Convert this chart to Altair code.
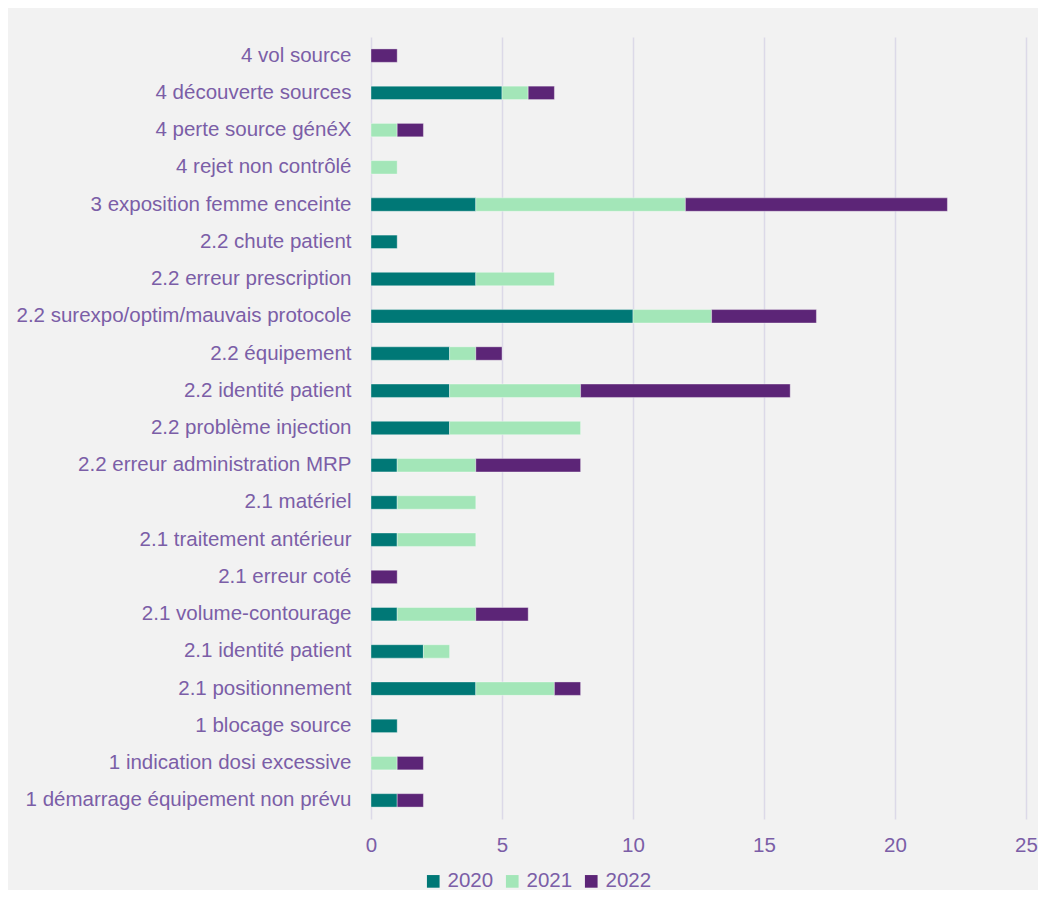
import altair as alt
import pandas as pd

categories = [
    "4 vol source",
    "4 découverte sources",
    "4 perte source généX",
    "4 rejet non contrôlé",
    "3 exposition femme enceinte",
    "2.2 chute patient",
    "2.2 erreur prescription",
    "2.2 surexpo/optim/mauvais protocole",
    "2.2 équipement",
    "2.2 identité patient",
    "2.2 problème injection ",
    "2.2 erreur administration MRP",
    "2.1 matériel",
    "2.1 traitement antérieur",
    "2.1 erreur coté",
    "2.1 volume-contourage",
    "2.1 identité patient",
    "2.1 positionnement",
    "1 blocage source",
    "1 indication dosi excessive",
    "1 démarrage équipement non prévu",
]
years = ["2020", "2021", "2022"]
v2020 = [0, 5, 0, 0, 4, 1, 4, 10, 3, 3, 3, 1, 1, 1, 0, 1, 2, 4, 1, 0, 1]
v2021 = [0, 1, 1, 1, 8, 0, 3, 3, 1, 5, 5, 3, 3, 3, 0, 3, 1, 3, 0, 1, 0]
v2022 = [1, 1, 1, 0, 10, 0, 0, 4, 1, 8, 0, 4, 0, 0, 1, 2, 0, 1, 0, 1, 1]
colors = ["#007876", "#A3E6B8", "#5C2577"]

rows = []
for series, year in zip([v2020, v2021, v2022], years):
    for cat, val in zip(categories, series):
        if val:
            rows.append({"cat": cat, "year": year, "val": val, "ord": years.index(year)})
df = pd.DataFrame(rows)

TXT = "#7B5EA7"
FONT = "Arial, Liberation Sans, sans-serif"
FS = 20.5

chart = (
    alt.Chart(df)
    .mark_bar(stroke="#ffffff", strokeWidth=0.6, strokeOpacity=0.6)
    .encode(
        y=alt.Y(
            "cat:N",
            sort=categories,
            title=None,
            scale=alt.Scale(paddingInner=0.64, paddingOuter=0.32),
            axis=alt.Axis(
                ticks=False,
                domain=False,
                labelPadding=20,
                labelFontSize=FS,
                labelColor=TXT,
                labelFont=FONT,
                labelLimit=400,
            ),
        ),
        x=alt.X(
            "val:Q",
            stack="zero",
            title=None,
            scale=alt.Scale(domain=[0, 25], nice=False),
            axis=alt.Axis(
                values=[0, 5, 10, 15, 20, 25],
                ticks=False,
                domain=False,
                grid=True,
                gridColor="#DCD9E8",
                gridWidth=1.5,
                labelPadding=16,
                labelFontSize=FS,
                labelColor=TXT,
                labelFont=FONT,
                labelFlush=False,
            ),
        ),
        color=alt.Color(
            "year:N",
            scale=alt.Scale(domain=years, range=colors),
            legend=alt.Legend(
                title=None,
                orient="none",
                direction="horizontal",
                legendX=52,
                legendY=834,
                symbolType="square",
                symbolSize=160,
                symbolStrokeWidth=0,
                labelFontSize=FS,
                labelColor=TXT,
                labelFont=FONT,
                labelOffset=4,
                columnPadding=8,
                padding=0,
            ),
        ),
        order=alt.Order("ord:Q"),
    )
    .properties(
        width=655,
        height=782,
        background="#F2F2F2",
        autosize=alt.AutoSizeParams(type="none"),
        padding={"left": 363, "top": 29, "right": 12, "bottom": 71},
    )
    .configure_view(stroke=None)
)

chart.save("out.html", embed_options={"renderer": "svg", "actions": False})
